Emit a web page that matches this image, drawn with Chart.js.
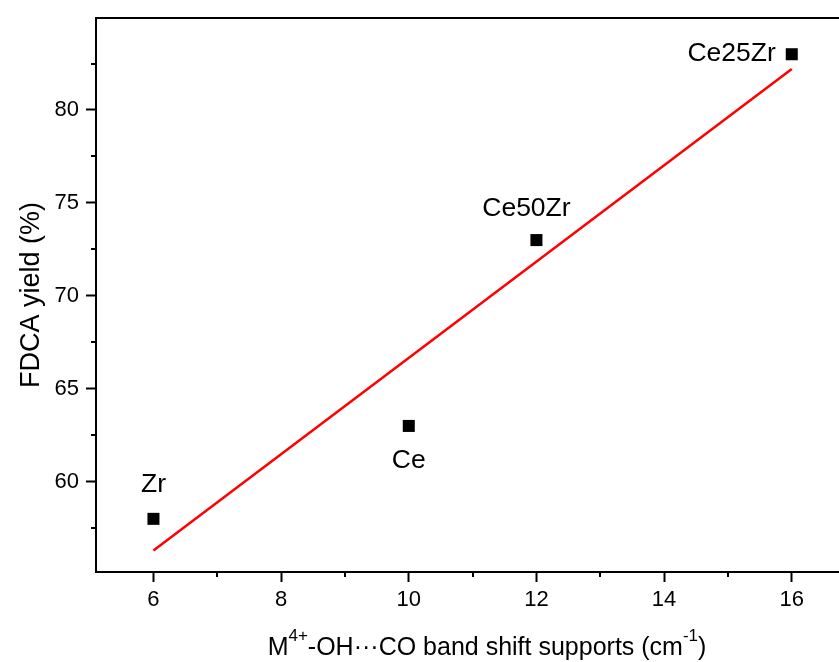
<!DOCTYPE html>
<html>
<head>
<meta charset="utf-8">
<script src="https://cdn.jsdelivr.net/npm/chart.js@4/dist/chart.umd.min.js"></script>
<style>
  html, body { margin: 0; padding: 0; background: #fff; overflow: hidden; }
  #wrap { width: 839px; height: 662px; }
</style>
</head>
<body>
<div id="wrap"><canvas id="fitChart" width="839" height="662"></canvas></div>
<script>
// data
const sampleNames = ['Zr', 'Ce', 'Ce50Zr', 'Ce25Zr'];
const shiftValues = [6, 10, 12, 16];        // band shift (cm-1)
const yieldValues = [58, 63, 73, 83];       // FDCA yield (%)
const fitX = [6, 16];                        // linear fit end points
const fitY = [56.3, 82.2];
const xTicks = [6, 8, 10, 12, 14, 16];
const xMinorTicks = [7, 9, 11, 13, 15];
const yTicks = [60, 65, 70, 75, 80];
const yMinorTicks = [57.5, 62.5, 67.5, 72.5, 77.5, 82.5];

const FONT = '"Liberation Sans", Arial, sans-serif';

// minor ticks, top frame line, sample labels and the axis titles
const extrasPlugin = {
    id: 'extras',
    afterDraw(chart) {
        const ctx = chart.ctx;
        const area = chart.chartArea;
        const xs = chart.scales.x;
        const ys = chart.scales.y;
        ctx.save();
        ctx.strokeStyle = '#000';
        ctx.lineWidth = 2;

        // top frame
        ctx.beginPath();
        ctx.moveTo(area.left - 1, area.top);
        ctx.lineTo(area.right, area.top);
        ctx.stroke();

        // minor ticks
        ctx.beginPath();
        xMinorTicks.forEach(v => {
            const px = Math.round(xs.getPixelForValue(v));
            ctx.moveTo(px, area.bottom);
            ctx.lineTo(px, area.bottom + 5);
        });
        yMinorTicks.forEach(v => {
            const py = Math.round(ys.getPixelForValue(v));
            ctx.moveTo(area.left, py);
            ctx.lineTo(area.left - 5, py);
        });
        ctx.stroke();

        // sample labels
        const pts = chart.getDatasetMeta(0).data;
        const offsets = [
            { dx: 0, dy: -34, align: 'center' },
            { dx: 0, dy: 35, align: 'center' },
            { dx: -10, dy: -31, align: 'center' },
            { dx: -16, dy: -1, align: 'right' }
        ];
        ctx.fillStyle = '#000';
        ctx.font = '26.5px ' + FONT;
        ctx.textBaseline = 'middle';
        pts.forEach((p, i) => {
            const o = offsets[i];
            ctx.textAlign = o.align;
            ctx.fillText(sampleNames[i], p.x + o.dx, p.y + o.dy);
        });

        // y title
        ctx.save();
        ctx.translate(32, (area.top + area.bottom) / 2);
        ctx.rotate(-Math.PI / 2);
        ctx.textAlign = 'center';
        ctx.font = '27px ' + FONT;
        ctx.fillText('FDCA yield (%)', 0, 0);
        ctx.restore();

        // x title with superscripts
        const parts = [
            { t: 'M', sup: false },
            { t: '4+', sup: true },
            { t: '-OH\u00B7\u00B7\u00B7CO band shift supports (cm', sup: false },
            { t: '-1', sup: true },
            { t: ')', sup: false }
        ];
        const big = '25px ' + FONT, small = '17px ' + FONT;
        let total = 0;
        parts.forEach(p => {
            ctx.font = p.sup ? small : big;
            p.w = ctx.measureText(p.t).width;
            total += p.w;
        });
        let x = area.left + 391 - total / 2;
        const baseY = 655;
        ctx.textAlign = 'left';
        ctx.textBaseline = 'alphabetic';
        parts.forEach(p => {
            ctx.font = p.sup ? small : big;
            ctx.fillText(p.t, x, p.sup ? baseY - 14 : baseY);
            x += p.w;
        });
        ctx.restore();
    }
};

const ctx = document.getElementById('fitChart').getContext('2d');
new Chart(ctx, {
    type: 'scatter',
    data: {
        datasets: [
            {
                label: 'samples',
                data: shiftValues.map((v, i) => ({ x: v, y: yieldValues[i] })),
                pointStyle: 'rect',
                pointRadius: 8.5,
                pointBorderWidth: 0,
                backgroundColor: '#000',
                borderColor: '#000'
            },
            {
                label: 'fit',
                type: 'line',
                data: fitX.map((v, i) => ({ x: v, y: fitY[i] })),
                borderColor: '#ff0000',
                borderWidth: 2.5,
                pointRadius: 0,
                fill: false
            }
        ]
    },
    options: {
        responsive: false,
        animation: false,
        layout: { autoPadding: false, padding: { top: 18, right: 0, left: 0, bottom: 0 } },
        plugins: {
            legend: { display: false },
            tooltip: { enabled: false }
        },
        scales: {
            x: {
                type: 'linear',
                min: 5.1,
                max: 16.74,
                afterBuildTicks: s => { s.ticks = xTicks.map(v => ({ value: v })); },
                afterFit: s => { s.height = 90; s.paddingLeft = 0; s.paddingRight = 0; },
                grid: { drawOnChartArea: false, drawTicks: true, tickLength: 10, tickWidth: 2, tickColor: '#000' },
                border: { display: true, color: '#000', width: 2 },
                ticks: { color: '#000', font: { family: FONT, size: 22 }, padding: 5, maxRotation: 0 }
            },
            y: {
                type: 'linear',
                min: 55.14,
                max: 84.95,
                afterBuildTicks: s => { s.ticks = yTicks.map(v => ({ value: v })); },
                afterFit: s => { s.width = 96; s.paddingTop = 0; s.paddingBottom = 0; },
                grid: { drawOnChartArea: false, drawTicks: true, tickLength: 10, tickWidth: 2, tickColor: '#000' },
                border: { display: true, color: '#000', width: 2 },
                ticks: { color: '#000', font: { family: FONT, size: 22 }, padding: 7 }
            }
        }
    },
    plugins: [extrasPlugin]
});
</script>
</body>
</html>
